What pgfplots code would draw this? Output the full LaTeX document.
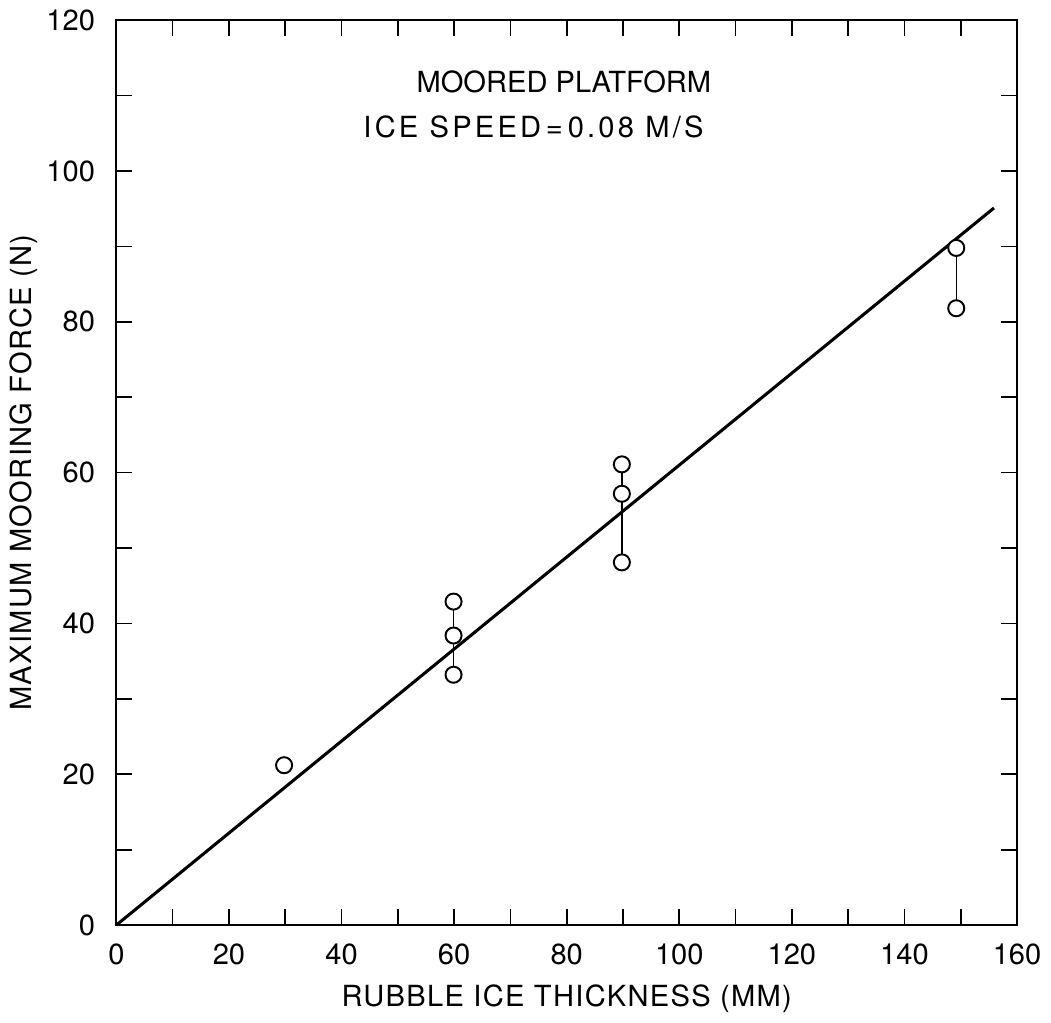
\documentclass[border=0pt]{standalone}
\usepackage{fontspec}
\setmainfont{TeX Gyre Heros}
\usepackage{pgfplots}
\pgfplotsset{compat=1.18}
\begin{document}
\fontsize{10.5}{12}\selectfont
\begin{tikzpicture}
\begin{axis}[
  scale only axis,
  width=325pt, height=326.5pt,
  xmin=0, xmax=160, ymin=0, ymax=120,
  xtick={0,20,...,160}, minor xtick={10,30,...,150},
  ytick={0,20,...,120}, minor ytick={10,30,...,110},
  tick align=inside,
  major tick length=5.8pt, minor tick length=5.8pt,
  tick style={line width=0.6pt, black},
  axis line style={line width=0.7pt},
  /pgf/number format/assume math mode=true,
  ticklabel style={font=\fontsize{10.5}{12}\selectfont},
  xticklabel style={yshift=-3pt},
  yticklabel style={xshift=-4pt},
  xlabel={\addfontfeature{LetterSpace=4.5}RUBBLE ICE THICKNESS (MM)},
  ylabel={\addfontfeature{LetterSpace=4.5}MAXIMUM MOORING FORCE (N)},
  xlabel style={yshift=0pt},
  ylabel style={yshift=-4pt},
  label style={font=\fontsize{10.5}{12}\selectfont},
  clip=false,
]
\addplot[black, line width=1.1pt] coordinates {(0,0) (155.9,95.1)};
\addplot[black, line width=0.5pt] coordinates {(59.9,42.9) (59.9,33.2)};
\addplot[black, line width=0.5pt] coordinates {(89.8,61.1) (89.8,48.1)};
\addplot[black, line width=0.5pt] coordinates {(149.2,89.8) (149.2,81.8)};
\addplot[only marks, mark=*, mark size=2.9pt, mark options={fill=white, draw=black, line width=0.7pt}] coordinates {
(29.8,21.2)
(59.9,42.9) (59.9,38.4) (59.9,33.2)
(89.8,61.1) (89.8,57.2) (89.8,48.1)
(149.2,89.8) (149.2,81.8)
};
\node[anchor=center, font=\fontsize{10.5}{12}\selectfont] at (axis cs:79.5,111.8) {MOORED PLATFORM};
\node[anchor=center, font=\fontsize{10.5}{12}\selectfont\addfontfeature{LetterSpace=11}] at (axis cs:74.1,105.8) {ICE SPEED\,=\,0.08 M/S};
\end{axis}
\end{tikzpicture}
\end{document}
